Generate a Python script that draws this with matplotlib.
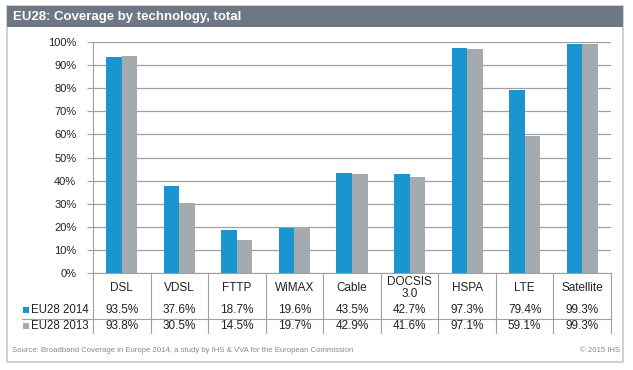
import matplotlib
matplotlib.use("Agg")
import matplotlib.pyplot as plt
from matplotlib.patches import Rectangle
from matplotlib.lines import Line2D
import numpy as np

plt.rcParams['font.family'] = ['Liberation Sans', 'DejaVu Sans']

categories = ["DSL", "VDSL", "FTTP", "WiMAX", "Cable", "DOCSIS\n3.0", "HSPA", "LTE", "Satellite"]
series_names = ["EU28 2014", "EU28 2013"]
values_2014 = [93.5, 37.6, 18.7, 19.6, 43.5, 42.7, 97.3, 79.4, 99.3]
values_2013 = [93.8, 30.5, 14.5, 19.7, 42.9, 41.6, 97.1, 59.1, 99.3]
yticks = [0, 10, 20, 30, 40, 50, 60, 70, 80, 90, 100]
title = "EU28: Coverage by technology, total"
source = "Source: Broadband Coverage in Europe 2014, a study by IHS & VVA for the European Commission"
copyright_txt = "\u00a9 2015 IHS"

c_blue = "#1a95cf"
c_gray = "#a3abb1"
W, H = 633, 370
fig = plt.figure(figsize=(W / 100, H / 100), dpi=100)

# overlay in pixel coords
ov = fig.add_axes([0, 0, 1, 1])
ov.set_xlim(0, W)
ov.set_ylim(H, 0)
ov.axis('off')
ov.add_patch(Rectangle((7, 6), 616, 356, facecolor='white', edgecolor='#c8c8c8', lw=1.2))
ov.add_patch(Rectangle((7, 6), 616, 21, facecolor='#6e7884', edgecolor='none'))
ov.text(13, 17, title, color='white', fontsize=9.5, fontweight='bold', va='center', ha='left')
ov.text(12, 350, source, color='#8a8a8a', fontsize=5.6, va='center', ha='left')
ov.text(620, 350, copyright_txt, color='#8a8a8a', fontsize=5.6, va='center', ha='right')

x0, x1, yb, yt = 93, 611, 273, 42
ax = fig.add_axes([x0 / W, 1 - yb / H, (x1 - x0) / W, (yb - yt) / H])
x = np.arange(len(categories))
bw = 0.27
ax.bar(x - bw / 2, values_2014, bw, color=c_blue, zorder=3)
ax.bar(x + bw / 2, values_2013, bw, color=c_gray, zorder=3)
ax.set_xlim(-0.5, len(categories) - 0.5)
ax.set_ylim(0, 100)
ax.set_yticks(yticks)
ax.set_yticklabels([f"{t}%" for t in yticks], fontsize=8, color='#222222')
ax.yaxis.grid(True, color='#a0a0a0', lw=0.9, zorder=0)
ax.set_xticks([])
for s in ['top', 'right']:
    ax.spines[s].set_visible(False)
ax.spines['left'].set_color('#a0a0a0')
ax.spines['bottom'].set_color('#a0a0a0')
ax.tick_params(axis='y', length=4, color='#a0a0a0', pad=8)

# table: x from data, y in pixels
def to_px(xd):
    return x0 + (xd + 0.5) / len(categories) * (x1 - x0)

row_y = [310, 326]
fs = 8.5
for i, cat in enumerate(categories):
    xc = to_px(i)
    ov.text(xc, 288, cat, fontsize=fs, ha='center', va='center', color='#222222', linespacing=1.0)
    ov.text(xc, row_y[0], f"{values_2014[i]:.1f}%", fontsize=fs, ha='center', va='center', color='#222222')
    ov.text(xc, row_y[1], f"{values_2013[i]:.1f}%", fontsize=fs, ha='center', va='center', color='#222222')
for i in range(len(categories) + 1):
    xb = to_px(i - 0.5)
    ov.add_line(Line2D([xb, xb], [273, 333], color='#a0a0a0', lw=0.8))
ov.add_line(Line2D([22, x1], [318.5, 318.5], color='#a0a0a0', lw=0.8))

for ry, nm, col in zip(row_y, series_names, [c_blue, c_gray]):
    ov.add_patch(Rectangle((23, ry - 3), 6, 6, facecolor=col, edgecolor='none'))
    ov.text(31, ry, nm, fontsize=8.3, ha='left', va='center', color='#222222')

fig.savefig("out.png", dpi=100)
